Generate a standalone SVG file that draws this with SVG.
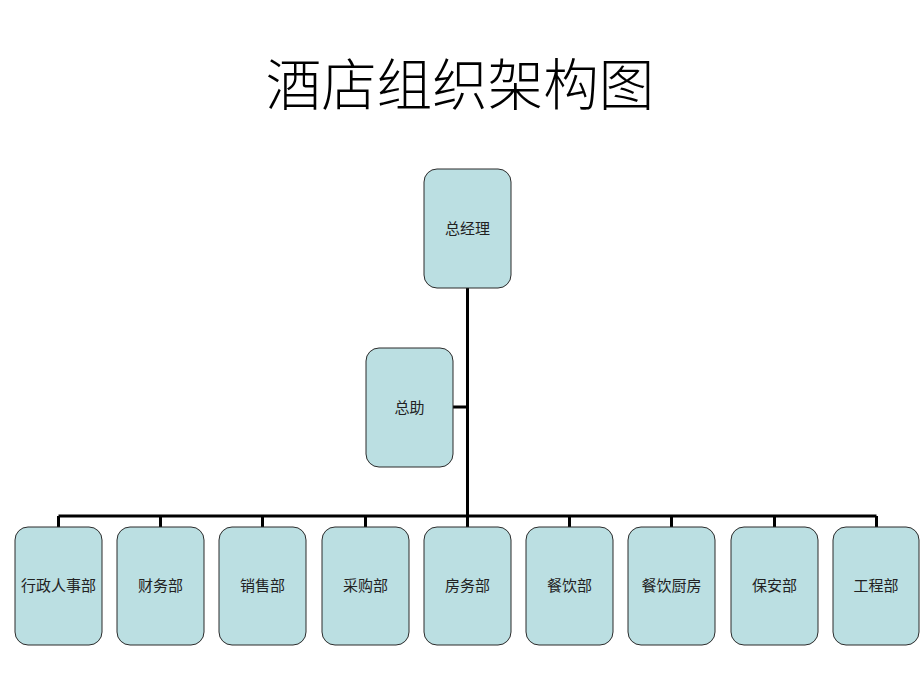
<svg xmlns="http://www.w3.org/2000/svg" width="920" height="690" viewBox="0 0 920 690">
<style>
.n{fill:#bbdfe2;stroke:#2b2b2b;stroke-width:1}
.t{font-family:"Liberation Serif","Noto Sans CJK SC",serif;font-size:15px;fill:#222;text-anchor:middle;dominant-baseline:central}
.c{stroke:#000;stroke-width:3;fill:none}
.title{font-family:"Liberation Serif","Noto Sans CJK SC",serif;font-size:55.5px;font-weight:300;fill:#000;text-anchor:middle}
</style>
<rect width="920" height="690" fill="#fff"/>
<text class="title" x="460" y="105">酒店组织架构图</text>
<g id="connectors">
<path class="c" d="M467.5 288V516M453 407H467.5M58.5 516H876.5M58.5 516V527M160.5 516V527M262.5 516V527M365.5 516V527M467.5 516V527M569.5 516V527M671.5 516V527M774.5 516V527M876.5 516V527"/>
</g>
<g id="gm"><rect class="n" x="424" y="169" width="87" height="119" rx="13"/><text class="t" x="467.5" y="228.5">总经理</text></g>
<g id="asst"><rect class="n" x="366" y="348" width="87" height="119" rx="13"/><text class="t" x="409.5" y="407.5">总助</text></g>
<g id="d1"><rect class="n" x="15" y="527" width="87" height="118" rx="13"/><text class="t" x="58.5" y="586">行政人事部</text></g>
<g id="d2"><rect class="n" x="117" y="527" width="87" height="118" rx="13"/><text class="t" x="160.5" y="586">财务部</text></g>
<g id="d3"><rect class="n" x="219" y="527" width="87" height="118" rx="13"/><text class="t" x="262.5" y="586">销售部</text></g>
<g id="d4"><rect class="n" x="322" y="527" width="87" height="118" rx="13"/><text class="t" x="365.5" y="586">采购部</text></g>
<g id="d5"><rect class="n" x="424" y="527" width="87" height="118" rx="13"/><text class="t" x="467.5" y="586">房务部</text></g>
<g id="d6"><rect class="n" x="526" y="527" width="87" height="118" rx="13"/><text class="t" x="569.5" y="586">餐饮部</text></g>
<g id="d7"><rect class="n" x="628" y="527" width="87" height="118" rx="13"/><text class="t" x="671.5" y="586">餐饮厨房</text></g>
<g id="d8"><rect class="n" x="731" y="527" width="87" height="118" rx="13"/><text class="t" x="774.5" y="586">保安部</text></g>
<g id="d9"><rect class="n" x="833" y="527" width="86" height="118" rx="13"/><text class="t" x="876" y="586">工程部</text></g>
</svg>
